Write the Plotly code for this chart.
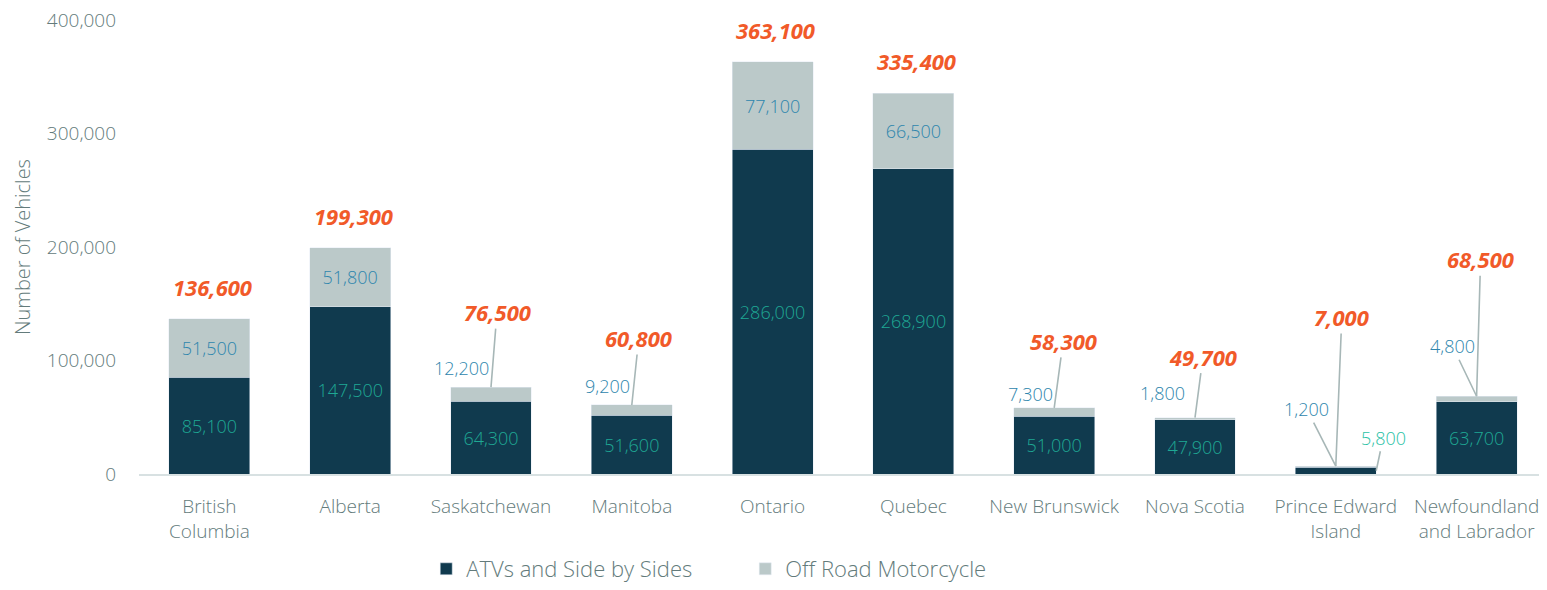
import plotly.graph_objects as go

provinces = ['British<br>Columbia', 'Alberta', 'Saskatchewan', 'Manitoba', 'Ontario', 'Quebec',
             'New Brunswick', 'Nova Scotia', 'Prince Edward<br>Island', 'Newfoundland<br>and Labrador']
atv = [85100, 147500, 64300, 51600, 286000, 268900, 51000, 47900, 5800, 63700]
moto = [51500, 51800, 12200, 9200, 77100, 66500, 7300, 1800, 1200, 4800]
totals = [136600, 199300, 76500, 60800, 363100, 335400, 58300, 49700, 7000, 68500]
y_ticks = [0, 100000, 200000, 300000, 400000]

NAVY = '#103a4e'
GREY = '#bbc9c9'
TEAL = '#1fa894'
TEAL_OUT = '#2bc2a6'
BLUE = '#2e86ad'
ORANGE = '#f15a29'
AXIS_TXT = '#637b7b'
LINE = '#a7b7b7'
FONT = 'Open Sans'

# pixel offsets (ax, ay) of labels that sit outside the bars, by category index
total_off = {2: (6, -75), 3: (7, -67), 6: (9, -67), 7: (8, -61), 8: (6, -149), 9: (4, -137)}
moto_off = {2: (-30, 19, False), 3: (-24, 19, False), 6: (-24, 14, False), 7: (-33, 25, False),
            8: (-29, -57, True), 9: (-24, -50, True)}


def fmt(v):
    return f'{v:,}'


fig = go.Figure()
fig.add_bar(x=provinces, y=atv, name='ATVs and Side by Sides', marker_color=NAVY,
            text=[fmt(v) if v >= 20000 else '' for v in atv], textposition='inside',
            insidetextanchor='middle', textangle=0,
            textfont=dict(color=TEAL, size=18, family=FONT, weight=300), hoverinfo='skip')
fig.add_bar(x=provinces, y=moto, name='Off Road Motorcycle', marker_color=GREY,
            text=[fmt(v) if v >= 20000 else '' for v in moto], textposition='inside',
            insidetextanchor='middle', textangle=0,
            textfont=dict(color=BLUE, size=18, family=FONT, weight=300), hoverinfo='skip')

anns = []
for i, t in enumerate(totals):
    tf = dict(color=ORANGE, size=22, family=FONT, weight='bold', style='italic')
    if i in total_off:
        ax, ay = total_off[i]
        anns.append(dict(x=i, y=t, text=fmt(t), showarrow=True, arrowhead=0, arrowwidth=1.6,
                         arrowcolor=LINE, ax=ax, ay=ay, font=tf))
    else:
        anns.append(dict(x=i, y=t, text=fmt(t), showarrow=False, yshift=32, xshift=3, font=tf))

for i, (dx, dy, arrow) in moto_off.items():
    mf = dict(color=BLUE, size=18, family=FONT, weight=300)
    if arrow:
        anns.append(dict(x=i, y=totals[i], text=fmt(moto[i]), showarrow=True, arrowhead=0,
                         arrowwidth=1.6, arrowcolor=LINE, ax=dx, ay=dy, font=mf))
    else:
        anns.append(dict(x=i, y=totals[i], text=fmt(moto[i]), showarrow=False,
                         xshift=dx, yshift=dy, font=mf))

# PEI ATV value sits outside the tiny bar
anns.append(dict(x=8 + 0.287, y=atv[8] / 2, text=fmt(atv[8]), showarrow=True, arrowhead=0,
                 arrowwidth=1.6, arrowcolor=LINE, ax=7, ay=-33,
                 font=dict(color=TEAL_OUT, size=18, family=FONT, weight=300)))

# page body has an 8px margin, so the figure is drawn 8px smaller and offset
fig.update_layout(
    barmode='stack', bargap=0.426, width=1539, height=582,
    margin=dict(l=131, r=0, t=12, b=116, autoexpand=False),
    paper_bgcolor='white', plot_bgcolor='white',
    font=dict(family=FONT, color=AXIS_TXT, size=19, weight=300),
    annotations=anns,
    legend=dict(orientation='h', traceorder='normal', x=0.204, y=-0.2555,
                xanchor='left', yanchor='bottom', font=dict(size=22, color=AXIS_TXT, weight=300),
                entrywidth=274, itemclick=False),
)
fig.update_xaxes(showline=True, linecolor='#d8e1e2', linewidth=2, ticks='', ticklabelstandoff=14,
                 automargin=False, tickfont=dict(size=19, color=AXIS_TXT, weight=300))
fig.update_yaxes(range=[0, 400000], tickvals=y_ticks, tickformat=',', showgrid=False, zeroline=False,
                 automargin=False, ticklabelstandoff=22, ticklabeloverflow='allow',
                 tickfont=dict(size=19, color=AXIS_TXT, weight=300),
                 title=dict(text='Number of Vehicles', standoff=10,
                            font=dict(size=20, color=AXIS_TXT, weight=300)))

fig.write_html('out.html')
